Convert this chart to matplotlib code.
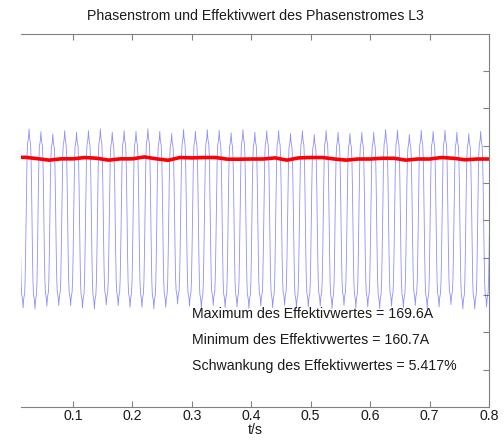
import numpy as np
import matplotlib
matplotlib.use("Agg")
from matplotlib import pyplot as plt

plt.rcParams['font.family'] = ['Liberation Sans', 'DejaVu Sans']

# one period of the phase current, normalised (24 samples, starting at rising zero crossing)
shape = [0, 0.40, 0.70, 0.84, 0.87, 0.91, 1.0, 0.91, 0.87, 0.84, 0.70, 0.40,
         0, -0.40, -0.70, -0.84, -0.87, -0.91, -1.0, -0.91, -0.87, -0.84, -0.70, -0.40]

# positive peaks per period (A), peak at t = 0.006 + 0.02*k
pos_peaks = [240, 244.5, 237.3, 231.2, 240, 235.5, 240, 244.5, 235.5, 240,
             238, 244.5, 238, 232, 242.7, 238, 242.7, 240.8, 234, 242.7,
             235.5, 240, 240, 232, 240, 229.3, 240, 235.5, 232, 235.5,
             235.5, 242.7, 240.8, 229.3, 240.8, 238, 240.8, 235.5, 232, 238]

# negative peaks per period (A), trough at t = 0.016 + 0.02*k
neg_peaks = [234.7, 237.3, 230, 228.5, 228.5, 234.7, 237.3, 226.7, 228.5, 232.8,
             232.8, 237.3, 232.8, 224, 230, 236, 228, 234, 232, 236,
             230, 234, 228, 236, 232, 230, 236, 228, 234, 232,
             236, 230, 234, 228, 236, 232, 226, 237.3, 237.3, 232]

# RMS value (A)
rms_t = [0.0125, 0.02, 0.04, 0.06, 0.08, 0.10, 0.12, 0.14, 0.16, 0.18, 0.20,
         0.22, 0.24, 0.26, 0.28, 0.30, 0.32, 0.34, 0.36, 0.38, 0.40,
         0.42, 0.44, 0.46, 0.48, 0.50, 0.52, 0.54, 0.56, 0.58, 0.60,
         0.62, 0.64, 0.66, 0.68, 0.70, 0.72, 0.74, 0.76, 0.78, 0.80]
rms_val = [168.5, 168.5, 165, 161, 164.5, 164.5, 168, 166, 161, 164.5, 164.5,
           169.6, 164.5, 160.7, 168, 167, 168, 168, 163.5, 163.5, 164,
           164, 167, 161, 167, 168, 168, 164, 161, 164, 164,
           166, 166, 161, 164, 164, 168, 166, 162, 164, 164]

info = ['Maximum des Effektivwertes = 169.6A',
        'Minimum des Effektivwertes = 160.7A',
        'Schwankung des Effektivwertes = 5.417%']

# assemble current waveform period by period
shape = np.array(shape)
i_vals = []
for p, n in zip(pos_peaks, neg_peaks):
    i_vals.append(np.concatenate([shape[:12] * p, shape[12:] * n]))
i_vals = np.concatenate(i_vals + [[0.0]])
t = 0.001 + np.arange(len(i_vals)) * (0.02 / 24)

fig = plt.figure(figsize=(5.04, 4.44), dpi=100)
ax = fig.add_axes([0.0417, 0.0833, 0.9285, 0.8412])

ax.plot(t, i_vals, color='#3333ff', lw=0.6, alpha=0.55)
ax.plot(rms_t, rms_val, color='#ff0000', lw=2.6)

for k, s in enumerate(info):
    ax.text(0.3, -250 - 70 * k, s, fontsize=10.2, va='center', ha='left', color='#1a1a1a')

ax.set_xlim(0.0125, 0.8)
ax.set_ylim(-500, 500)
ax.set_xticks([0.1, 0.2, 0.3, 0.4, 0.5, 0.6, 0.7, 0.8])
ax.set_xticklabels(['0.1', '0.2', '0.3', '0.4', '0.5', '0.6', '0.7', '0.8'])
ax.set_yticks([-400, -300, -200, -100, 0, 100, 200, 300, 400])
ax.tick_params(axis='x', direction='in', top=True, length=4, color='#808080',
               labelsize=10.2, labelcolor='#1a1a1a', pad=1.5)
ax.tick_params(axis='y', direction='in', left=False, right=True, labelleft=False,
               length=4, color='#808080')
for side in ['top', 'bottom', 'right']:
    ax.spines[side].set_color('#808080')
    ax.spines[side].set_linewidth(0.8)
ax.spines['left'].set_visible(False)

ax.set_xlabel('t/s', fontsize=10.2, color='#1a1a1a', labelpad=0)
ax.set_title('Phasenstrom und Effektivwert des Phasenstromes L3', fontsize=10.2,
             color='#1a1a1a', pad=10)

fig.savefig('out.png', dpi=100)
